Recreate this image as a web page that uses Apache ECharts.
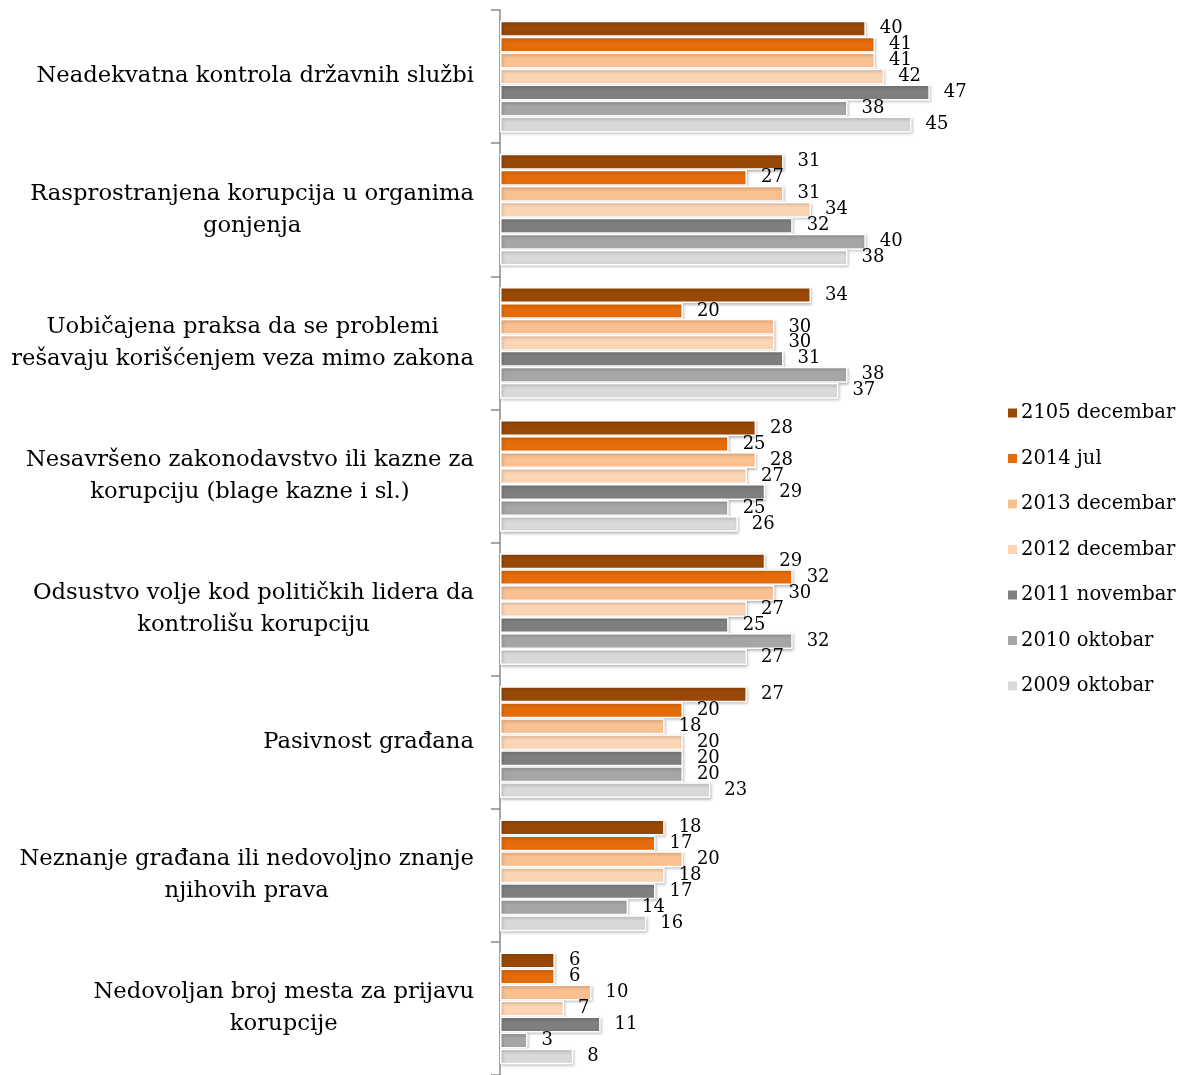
<!DOCTYPE html>
<html><head><meta charset="utf-8">
<script src="https://cdn.jsdelivr.net/npm/echarts@6/dist/echarts.min.js"></script>
<style>html,body{margin:0;padding:0;background:#fff}#c{width:1183px;height:1075px}</style>
</head><body><div id="c"></div>
<script>
const categories = [
  "Neadekvatna kontrola državnih službi",
  "Rasprostranjena korupcija u organima\ngonjenja",
  "Uobičajena praksa da se problemi\nrešavaju korišćenjem veza mimo zakona",
  "Nesavršeno zakonodavstvo ili kazne za\nkorupciju (blage kazne i sl.)",
  "Odsustvo volje kod političkih lidera da\nkontrolišu korupciju",
  "Pasivnost građana",
  "Neznanje građana ili nedovoljno znanje\nnjihovih prava",
  "Nedovoljan broj mesta za prijavu\nkorupcije"
];
const seriesNames = ["2105 decembar","2014 jul","2013 decembar","2012 decembar","2011 novembar","2010 oktobar","2009 oktobar"];
const s2105dec = [40,31,34,28,29,27,18,6];
const s2014jul = [41,27,20,25,32,20,17,6];
const s2013dec = [41,31,30,28,30,18,20,10];
const s2012dec = [42,34,30,27,27,20,18,7];
const s2011nov = [47,32,31,29,25,20,17,11];
const s2010okt = [38,40,38,25,32,20,14,3];
const s2009okt = [45,38,37,26,27,23,16,8];
const seriesData = [s2105dec,s2014jul,s2013dec,s2012dec,s2011nov,s2010okt,s2009okt];
const colors = ["#984807","#E46C0A","#FAC090","#FCD5B5","#7F7F7F","#A6A6A6","#D9D9D9"];

const FONT = "DejaVu Serif";
const chart = echarts.init(document.getElementById('c'));
chart.setOption({
  animation: false,
  color: colors,
  grid: {left: 500, top: 10, width: 457.3, height: 1066.7},
  legend: {
    orient: 'vertical', left: 1001, top: 398,
    itemWidth: 11, itemHeight: 11, itemGap: 25.5,
    icon: 'rect',
    textStyle: {fontFamily: FONT, fontSize: 19.5, color: '#000', lineHeight: 20, padding: [0,0,0,-2]},
    data: seriesNames
  },
  xAxis: {type: 'value', min: 0, max: 50, show: false},
  yAxis: {
    type: 'category', inverse: true, data: categories,
    axisLine: {show: true, lineStyle: {color: '#8a8a8a', width: 1.5}},
    axisTick: {show: true, inside: false, length: 9, lineStyle: {color: '#8a8a8a', width: 1.5}},
    axisLabel: {
      margin: 26, align: 'right',
      fontFamily: FONT, fontSize: 22.7, color: '#000', lineHeight: 32,
      formatter: v => v.split('\n').map(l => '{c|' + l + '}').join('\n'),
      rich: {c: {align: 'center', fontFamily: FONT, fontSize: 22.7, color: '#000', lineHeight: 32}}
    }
  },
  series: seriesNames.map((n, i) => ({
    name: n, type: 'bar', data: seriesData[i],
    barGap: '0%', barCategoryGap: '16%',
    itemStyle: {borderColor: '#fff', borderWidth: 1.5, shadowBlur: 3, shadowColor: 'rgba(0,0,0,0.25)', shadowOffsetX: 1, shadowOffsetY: 1.5},
    label: {show: true, position: 'right', distance: 14, fontFamily: FONT, fontSize: 18, color: '#000'}
  }))
});
</script></body></html>
